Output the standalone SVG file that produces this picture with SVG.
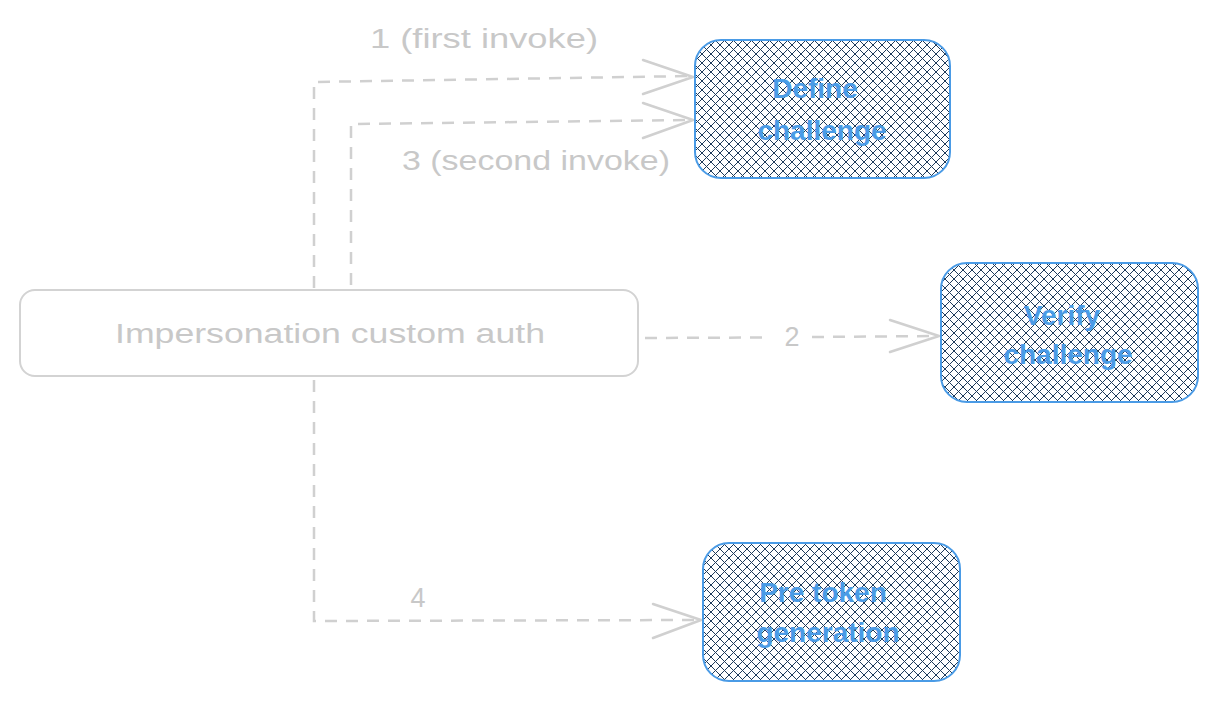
<svg xmlns="http://www.w3.org/2000/svg" width="1218" height="701" viewBox="0 0 1218 701">
<defs>
<pattern id="hatch" width="9" height="9" patternUnits="userSpaceOnUse">
<path d="M-1,-1 L10,10 M10,-1 L-1,10" stroke="#1e3a5a" stroke-width="1" fill="none"/>
</pattern>
<style>
.task{fill:url(#hatch);stroke:#4a9be6;stroke-width:2}
.ttext{font-family:"Liberation Sans",sans-serif;font-size:28px;font-weight:bold;fill:#4a9be6;text-anchor:middle}
.main{fill:#ffffff;stroke:#d3d3d3;stroke-width:2}
.mtext{font-family:"Liberation Sans",sans-serif;font-size:27px;fill:#c8c8c8;text-anchor:middle}
.edge{fill:none;stroke:#d0d0d0;stroke-width:2.5;stroke-dasharray:12 9}
.head{fill:none;stroke:#d0d0d0;stroke-width:2.5;stroke-linecap:round;stroke-linejoin:round}
.elabel{font-family:"Liberation Sans",sans-serif;font-size:27px;fill:#c8c8c8;text-anchor:middle}
</style>
</defs>
<rect width="1218" height="701" fill="#ffffff"/>
<g id="connectors">
<path class="edge" d="M314,288 L314,82 L690,76"/>
<path class="head" d="M643,60 L693,77 L643,94"/>
<text class="elabel" x="484" y="48" textLength="228" lengthAdjust="spacingAndGlyphs">1 (first invoke)</text>
<path class="edge" d="M351,285 L351,124 L690,120"/>
<path class="head" d="M643,103 L693,120 L643,138"/>
<text class="elabel" x="536" y="170" textLength="268" lengthAdjust="spacingAndGlyphs">3 (second invoke)</text>
<path class="edge" d="M645,338 L770,337.5"/>
<path class="edge" d="M812,337 L936,336"/>
<path class="head" d="M890,320 L939,336 L890,352"/>
<text class="elabel" x="792" y="346">2</text>
<path class="edge" d="M314,380 L314,621 L697,620"/>
<path class="head" d="M653,604 L701,620 L653,638"/>
<text class="elabel" x="418" y="607">4</text>
</g>
<g id="node-impersonation">
<rect class="main" x="20" y="290" width="618" height="86" rx="15"/>
<text class="mtext" x="330" y="343" textLength="430" lengthAdjust="spacingAndGlyphs">Impersonation custom auth</text>
</g>
<g id="node-define">
<rect class="task" x="695" y="40" width="255" height="138" rx="26"/>
<text class="ttext" x="815" y="98">Define</text>
<text class="ttext" x="822" y="140">challenge</text>
</g>
<g id="node-verify">
<rect class="task" x="941" y="263" width="257" height="139" rx="26"/>
<text class="ttext" x="1062" y="325">Verify</text>
<text class="ttext" x="1068" y="364">challenge</text>
</g>
<g id="node-pretoken">
<rect class="task" x="703" y="543" width="257" height="138" rx="26"/>
<text class="ttext" x="823" y="602">Pre token</text>
<text class="ttext" x="828" y="642">generation</text>
</g>
</svg>
